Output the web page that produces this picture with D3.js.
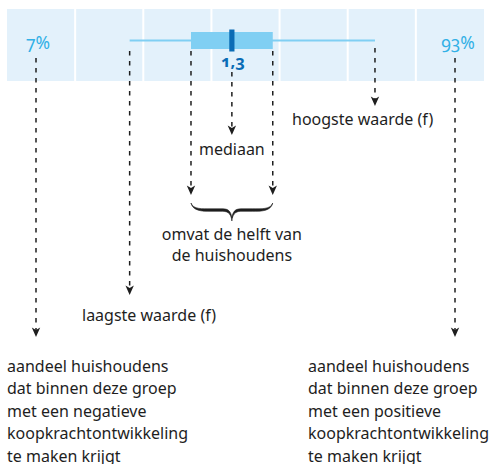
<!DOCTYPE html>
<html>
<head>
<meta charset="utf-8">
<script src="https://cdn.jsdelivr.net/npm/d3@7"></script>
<style>
  body { margin: 0; background: #fff; }
  svg text { font-family: "Noto Sans", "Open Sans", sans-serif; }
</style>
</head>
<body>
<div id="chart"></div>
<script>
(function() {
var width = 496,
  height = 464;

// grid boundaries (koopkrachtverandering, %)
var gridTicks = [-2, -1, 0, 1, 2, 3, 4, 5];
// min, q1, mediaan, q3, max
var boxStats = [-0.2, 0.7, 1.3, 1.9, 3.4];
var medianLabel = "1,3";
var shareNeg = "7%",
  sharePos = "93%";
var labelMax = "hoogste waarde (f)",
  labelMedian = "mediaan",
  labelMin = "laagste waarde (f)";
var labelBox = ["omvat de helft van", "de huishoudens"];
var textNeg = ["aandeel huishoudens", "dat binnen deze groep", "met een negatieve", "koopkrachtontwikkeling", "te maken krijgt"];
var textPos = ["aandeel huishoudens", "dat binnen deze groep", "met een positieve", "koopkrachtontwikkeling", "te maken krijgt"];

var ink = "#1e1e1e";

var svg = d3.select("#chart")
  .append("svg")
  .attr("width", width)
  .attr("height", height)

var x = d3.scaleLinear().domain([-2, 5]).range([7, 484])

var bandTop = 9, bandBottom = 81, midY = 40.5

// background cells
svg.selectAll(".cell")
  .data(d3.pairs(gridTicks))
  .enter().append("rect")
  .attr("class", "cell")
  .attr("x", function(d, i) { return x(d[0]) + (i === 0 ? 0 : 1) })
  .attr("width", function(d, i) { return x(d[1]) - x(d[0]) - (i === 0 || i === gridTicks.length - 2 ? 1 : 2) })
  .attr("y", bandTop)
  .attr("height", bandBottom - bandTop)
  .attr("fill", "#e3f1fb")

// whisker
svg.append("line")
  .attr("x1", x(boxStats[0]))
  .attr("x2", x(boxStats[4]))
  .attr("y1", midY)
  .attr("y2", midY)
  .attr("stroke", "#80cff3")
  .attr("stroke-width", 2.2)

// box
svg.append("rect")
  .attr("x", x(boxStats[1]))
  .attr("width", x(boxStats[3]) - x(boxStats[1]))
  .attr("y", 32)
  .attr("height", 17)
  .attr("fill", "#80cff3")

// median
svg.append("rect")
  .attr("x", x(boxStats[2]) - 2.6)
  .attr("width", 5.2)
  .attr("y", 29.5)
  .attr("height", 22)
  .attr("fill", "#0a6cb5")

svg.append("text")
  .attr("x", x(boxStats[2]) + 1)
  .attr("y", 67)
  .attr("text-anchor", "middle")
  .attr("font-size", 16.5)
  .attr("font-weight", "bold")
  .style("font-variant-numeric", "oldstyle-nums")
  .attr("fill", "#0a6cb5")
  .text(medianLabel)

// share labels
svg.selectAll(".share")
  .data([[38, shareNeg], [458, sharePos]])
  .enter().append("text")
  .attr("class", "share")
  .attr("x", function(d) { return d[0] })
  .attr("y", 48.5)
  .attr("text-anchor", "middle")
  .attr("font-size", 17.5)
  .style("font-variant-numeric", "oldstyle-nums")
  .attr("fill", "#31b0e6")
  .text(function(d) { return d[1] })

// leader lines with arrow heads
var leaders = [
  { px: x(boxStats[0]), y0: 51, y1: 295 },
  { px: x(boxStats[1]), y0: 51, y1: 195 },
  { px: x(boxStats[2]), y0: 72, y1: 135 },
  { px: x(boxStats[3]), y0: 51, y1: 195 },
  { px: x(boxStats[4]), y0: 48, y1: 106 },
  { px: 36, y0: 58, y1: 337 },
  { px: 455, y0: 58, y1: 337 }
]

var lead = svg.selectAll(".leader")
  .data(leaders)
  .enter().append("g")
  .attr("class", "leader")

lead.append("line")
  .attr("x1", function(d) { return d.px })
  .attr("x2", function(d) { return d.px })
  .attr("y1", function(d) { return d.y0 })
  .attr("y2", function(d) { return d.y1 - 7 })
  .attr("stroke", ink)
  .attr("stroke-width", 1.5)
  .attr("stroke-dasharray", "4.5,5.5")

lead.append("path")
  .attr("d", "M0,0L-4.2,-9.5L0,-7L4.2,-9.5Z")
  .attr("transform", function(d) { return "translate(" + d.px + "," + d.y1 + ")" })
  .attr("fill", ink)

// brace, drawn as a filled shape: thin at the ends, thicker along the arms
var bx1 = x(boxStats[1]), bx2 = x(boxStats[3]), bm = (bx1 + bx2) / 2
var braceTop = 203, braceMid = 210, braceTip = 221
var brace = d3.path()
brace.moveTo(bx1, braceTop)
brace.bezierCurveTo(bx1 + 2, braceMid - 0.5, bx1 + 12, braceMid - 1.2, bx1 + 20, braceMid - 1.2)
brace.lineTo(bm - 9, braceMid - 1.2)
brace.bezierCurveTo(bm - 3, braceMid - 1.2, bm - 0.8, braceMid + 2, bm, braceTip - 3)
brace.bezierCurveTo(bm + 0.8, braceMid + 2, bm + 3, braceMid - 1.2, bm + 9, braceMid - 1.2)
brace.lineTo(bx2 - 20, braceMid - 1.2)
brace.bezierCurveTo(bx2 - 12, braceMid - 1.2, bx2 - 2, braceMid - 0.5, bx2, braceTop)
brace.bezierCurveTo(bx2 - 2, braceMid + 1.5, bx2 - 12, braceMid + 1.3, bx2 - 20, braceMid + 1.3)
brace.lineTo(bm + 9, braceMid + 1.3)
brace.bezierCurveTo(bm + 3, braceMid + 1.3, bm + 0.6, braceMid + 5, bm, braceTip)
brace.bezierCurveTo(bm - 0.6, braceMid + 5, bm - 3, braceMid + 1.3, bm - 9, braceMid + 1.3)
brace.lineTo(bx1 + 20, braceMid + 1.3)
brace.bezierCurveTo(bx1 + 12, braceMid + 1.3, bx1 + 2, braceMid + 1.5, bx1, braceTop)
brace.closePath()
svg.append("path")
  .attr("d", brace.toString())
  .attr("fill", ink)
  .attr("stroke", ink)
  .attr("stroke-width", 0.6)

// annotations
function label(txt, px, py, anchor) {
  svg.append("text")
    .attr("x", px)
    .attr("y", py)
    .attr("text-anchor", anchor)
    .attr("font-size", 16)
    .attr("fill", ink)
    .text(txt)
}

label(labelMax, 292, 125, "start")
label(labelMedian, bm, 155, "middle")
label(labelBox[0], bm, 240, "middle")
label(labelBox[1], bm, 261, "middle")
label(labelMin, 82, 321, "start")

textNeg.forEach(function(t, i) { label(t, 7, 371.5 + i * 22.5, "start") })
textPos.forEach(function(t, i) { label(t, 308, 371.5 + i * 22.5, "start") })
})();
</script>
</body>
</html>
